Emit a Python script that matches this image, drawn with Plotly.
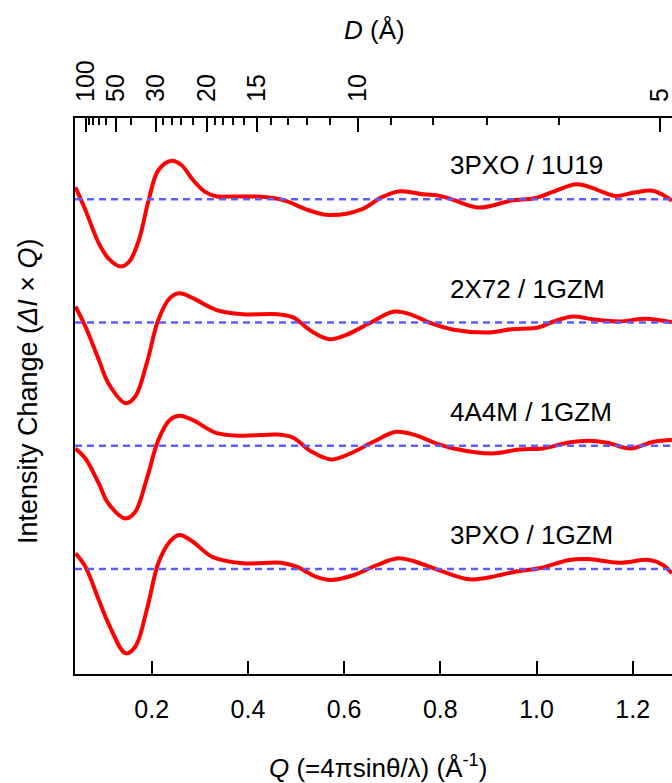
import math
import plotly.graph_objects as go

# ---------------- data ----------------
Q_MIN, Q_MAX = 0.0405, 1.2817
Y_MIN, Y_MAX = -1.05, 4.51

names = ["3PXO / 1U19", "2X72 / 1GZM", "4A4M / 1GZM", "3PXO / 1GZM"]
offsets = [3.697, 2.465, 1.232, 0.0]

q1 = [0.0415, 0.0621, 0.0900, 0.1099, 0.1363, 0.1538, 0.1738, 0.1937, 0.2137, 0.2416,
      0.2616, 0.2855, 0.3094, 0.3334, 0.3653, 0.4291, 0.4770, 0.5249, 0.5688, 0.6366,
      0.6765, 0.7164, 0.7643, 0.7962, 0.8281, 0.8800, 0.9478, 0.9957, 1.0356, 1.0835,
      1.1234, 1.1633, 1.2032, 1.2391, 1.2630, 1.2814]
i1 = [0.120, -0.107, -0.440, -0.590, -0.673, -0.620, -0.400, -0.007, 0.290, 0.385,
      0.343, 0.195, 0.080, 0.030, 0.027, 0.025, -0.013, -0.107, -0.157, -0.100,
      0.017, 0.080, 0.050, 0.037, -0.007, -0.083, -0.013, 0.010, 0.077, 0.150,
      0.100, 0.033, 0.067, 0.087, 0.043, -0.013]

q2 = [0.0415, 0.0621, 0.0900, 0.1099, 0.1458, 0.1658, 0.1897, 0.2137, 0.2376, 0.2576,
      0.2855, 0.3334, 0.3892, 0.4611, 0.4930, 0.5329, 0.5688, 0.6047, 0.6526, 0.7044,
      0.7404, 0.7803, 0.8281, 0.9000, 0.9478, 1.0037, 1.0356, 1.0755, 1.1154, 1.1713,
      1.2271, 1.2814]
i2 = [0.160, -0.040, -0.373, -0.607, -0.807, -0.740, -0.407, 0.027, 0.243, 0.293,
      0.243, 0.127, 0.083, 0.083, 0.053, -0.090, -0.167, -0.123, -0.007, 0.110,
      0.077, -0.007, -0.073, -0.100, -0.067, -0.050, 0.010, 0.060, 0.033, 0.010,
      0.037, 0.003]

q3 = [0.0415, 0.0621, 0.0900, 0.1099, 0.1458, 0.1658, 0.1897, 0.2137, 0.2376, 0.2576,
      0.2855, 0.3334, 0.3892, 0.4611, 0.4930, 0.5329, 0.5728, 0.6127, 0.6606, 0.7084,
      0.7483, 0.7882, 0.8281, 0.9079, 0.9638, 1.0117, 1.0675, 1.1074, 1.1473, 1.1952,
      1.2431, 1.2814]
i3 = [-0.027, -0.127, -0.377, -0.577, -0.727, -0.660, -0.330, 0.057, 0.257, 0.300,
      0.257, 0.130, 0.100, 0.113, 0.083, -0.060, -0.137, -0.077, 0.040, 0.140,
      0.107, 0.030, -0.027, -0.077, -0.037, -0.027, 0.033, 0.050, 0.030, -0.027,
      0.040, 0.057]

q4 = [0.0415, 0.0621, 0.0900, 0.1099, 0.1458, 0.1658, 0.1897, 0.2137, 0.2376, 0.2576,
      0.2855, 0.3254, 0.3892, 0.4690, 0.5010, 0.5409, 0.5728, 0.6207, 0.6685, 0.7124,
      0.7483, 0.7962, 0.8601, 0.9079, 0.9558, 1.0117, 1.0675, 1.1074, 1.1713, 1.2351,
      1.2630, 1.2814]
i4 = [0.157, 0.023, -0.310, -0.543, -0.843, -0.777, -0.410, 0.057, 0.273, 0.340,
      0.273, 0.123, 0.057, 0.063, 0.023, -0.077, -0.110, -0.060, 0.040, 0.107,
      0.073, -0.010, -0.103, -0.077, -0.027, 0.013, 0.090, 0.100, 0.063, 0.090,
      0.040, -0.043]

q_series = [q1, q2, q3, q4]
i_series = [i1, i2, i3, i4]

q_ticks = [0.2, 0.4, 0.6, 0.8, 1.0, 1.2]
q_ticktext = ["0.2", "0.4", "0.6", "0.8", "1.0", "1.2"]
d_major = [100, 50, 30, 20, 15, 10, 5]
d_minor = [90, 80, 70, 60, 40, 28, 26, 24, 22, 19, 18, 17, 16, 14, 13, 12, 11, 9, 8, 7, 6]
label_q = 0.816
label_dy = 0.34

# ---------------- figure ----------------
FONT = "Liberation Sans, Arial, Helvetica, sans-serif"
fig = go.Figure()

for off in offsets:
    fig.add_trace(go.Scatter(
        x=[Q_MIN, Q_MAX], y=[off, off], xaxis="x2", yaxis="y",
        mode="lines", line=dict(color="#5c5cff", width=2.5, dash="7px,5px"),
        hoverinfo="skip", showlegend=False))

for q, vals, off in zip(q_series, i_series, offsets):
    fig.add_trace(go.Scatter(
        x=q, y=[v + off for v in vals], mode="lines",
        line=dict(color="#ff0000", width=4, shape="spline", smoothing=1.0),
        showlegend=False))

for name, off in zip(names, offsets):
    fig.add_annotation(x=label_q, y=off + label_dy, xref="x", yref="y",
                       text=name, showarrow=False, xanchor="left", yanchor="middle",
                       font=dict(size=26, color="black", family=FONT))

fig.add_annotation(x=0.5075, y=-0.1655, xref="paper", yref="paper",
                   text="<i>Q</i> (=4πsinθ/λ) (Å<sup>-1</sup>)", showarrow=False,
                   xanchor="center", yanchor="middle",
                   font=dict(size=26, color="black", family=FONT))
fig.add_annotation(x=0.5025, y=1.158, xref="paper", yref="paper",
                   text="<i>D</i> (Å)", showarrow=False,
                   xanchor="center", yanchor="middle",
                   font=dict(size=26, color="black", family=FONT))
fig.add_annotation(x=-0.0787, y=0.509, xref="paper", yref="paper",
                   text="Intensity Change (<i>ΔI</i> × <i>Q</i>)", showarrow=False,
                   textangle=-90, xanchor="center", yanchor="middle",
                   font=dict(size=27, color="black", family=FONT))

fig.update_layout(
    width=672, height=783,
    margin=dict(l=75, r=0, t=118, b=109),
    plot_bgcolor="white", paper_bgcolor="white",
    font=dict(family=FONT, color="black"),
    showlegend=False,
    xaxis=dict(range=[Q_MIN, Q_MAX], tickmode="array", tickvals=q_ticks,
               ticktext=q_ticktext, ticks="inside", ticklen=13, tickwidth=2,
               tickcolor="black", showline=True, linecolor="black", linewidth=2,
               showgrid=False, zeroline=False, tickfont=dict(size=25),
               ticklabelstandoff=12, ticklabeloverflow="allow"),
    xaxis2=dict(range=[Q_MIN, Q_MAX], overlaying="x", side="top", anchor="y",
                tickmode="array", tickvals=[2 * math.pi / d for d in d_major],
                ticktext=[str(d) for d in d_major], tickangle=-90,
                ticks="inside", ticklen=14, tickwidth=2, tickcolor="black",
                showline=True, linecolor="black", linewidth=2,
                showgrid=False, zeroline=False, tickfont=dict(size=25),
                ticklabelstandoff=9, ticklabeloverflow="allow",
                minor=dict(tickmode="array", tickvals=[2 * math.pi / d for d in d_minor],
                           ticks="inside", ticklen=7, tickwidth=1.5, tickcolor="black")),
    yaxis=dict(range=[Y_MIN, Y_MAX], showline=True, linecolor="black", linewidth=2,
               showticklabels=False, ticks="", showgrid=False, zeroline=False),
)

fig.write_html("out.html", config={"displayModeBar": False},
               post_script="document.body.style.margin='0';document.body.style.overflow='hidden';")
